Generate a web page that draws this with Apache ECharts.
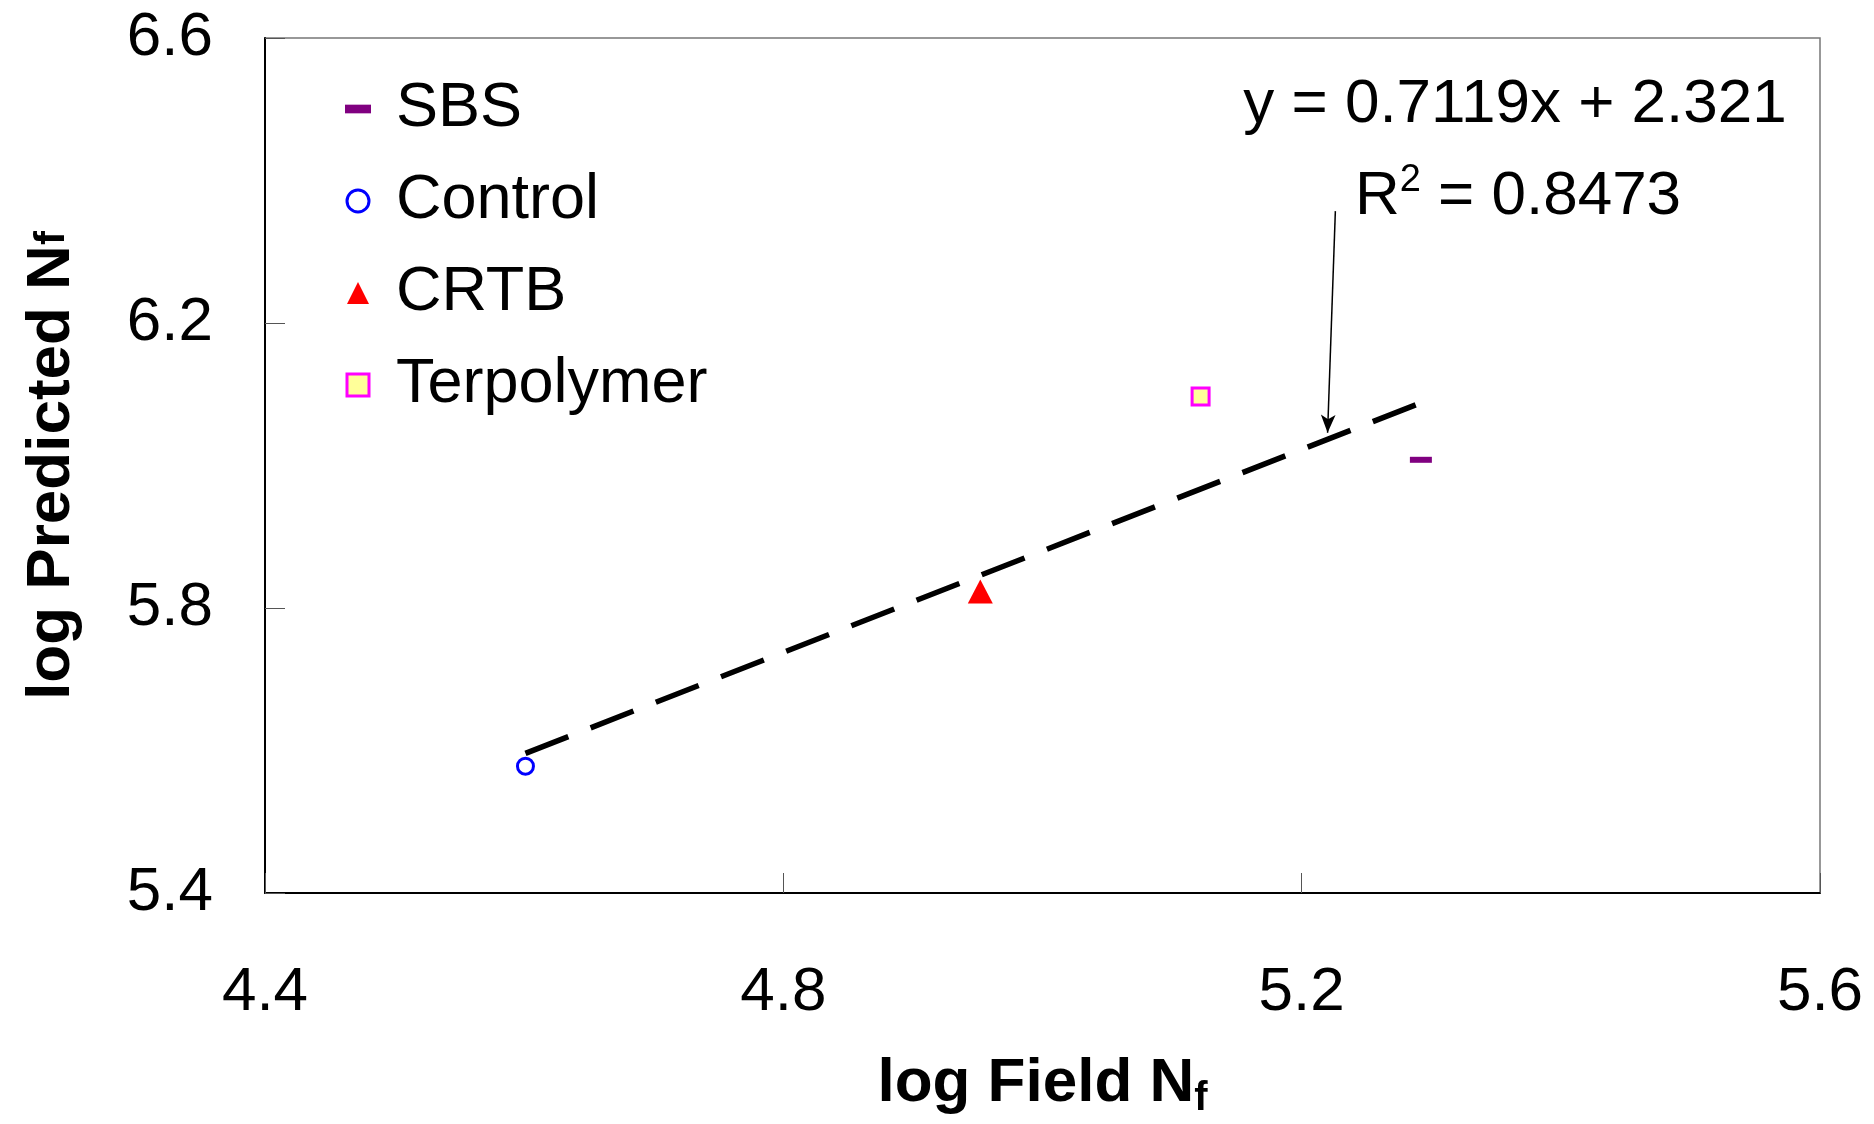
<!DOCTYPE html>
<html>
<head>
<meta charset="utf-8">
<script src="https://cdn.jsdelivr.net/npm/echarts@6/dist/echarts.min.js"></script>
<style>
html,body{margin:0;padding:0;background:#fff;}
#main{width:1874px;height:1124px;}
</style>
</head>
<body>
<div id="main"></div>
<script>
// ---- data ----
var xTicks = [4.4, 4.8, 5.2, 5.6];
var yTicks = [5.4, 5.8, 6.2, 6.6];
var sbsData = [[5.292, 6.008]];
var controlData = [[4.601, 5.578]];
var crtbData = [[4.952, 5.823]];
var terpolymerData = [[5.122, 6.097]];
var trendData = [[4.601, 5.596], [5.292, 6.088]];
var arrowFrom = [5.226, 6.357];
var arrowTo = [5.220, 6.046];
var equationText = 'y = 0.7119x + 2.321';
var r2Value = '0.8473';

var FONT = '"Liberation Sans", Arial, sans-serif';

var chart = echarts.init(document.getElementById('main'));
var option = {
  animation: false,
  backgroundColor: '#fff',
  grid: {
    left: 265, right: 54, top: 38, bottom: 231,
    containLabel: false,
    outerBoundsMode: 'none',
    show: true, borderColor: '#777', borderWidth: 1.5, backgroundColor: 'transparent'
  },
  xAxis: {
    type: 'value', min: 4.4, max: 5.6, interval: 0.4,
    axisLine: {show: true, onZero: false, lineStyle: {color: '#000', width: 2}},
    axisTick: {show: true, inside: true, length: 20, lineStyle: {color: '#555', width: 1}},
    splitLine: {show: false},
    axisLabel: {
      fontFamily: FONT, fontSize: 62, color: '#000', margin: 69,
      formatter: function (v) { return v.toFixed(1); }
    },
    name: '{m|log Field N}{s|f}',
    nameLocation: 'middle',
    nameGap: 156,
    nameTextStyle: {
      rich: {
        m: {fontFamily: FONT, fontSize: 62, fontWeight: 'bold', color: '#000', lineHeight: 70},
        s: {fontFamily: FONT, fontSize: 40, fontWeight: 'bold', color: '#000', padding: [22, 0, 0, 0], verticalAlign: 'bottom'}
      }
    }
  },
  yAxis: {
    type: 'value', min: 5.4, max: 6.6, interval: 0.4,
    axisLine: {show: true, onZero: false, lineStyle: {color: '#000', width: 2}},
    axisTick: {show: true, inside: true, length: 20, lineStyle: {color: '#555', width: 1}},
    splitLine: {show: false},
    axisLabel: {
      fontFamily: FONT, fontSize: 62, color: '#000', margin: 52,
      formatter: function (v) { return v.toFixed(1); }
    },
    name: '{m|log Predicted N}{s|f}',
    nameLocation: 'middle',
    nameGap: 182,
    nameRotate: 90,
    nameTextStyle: {
      rich: {
        m: {fontFamily: FONT, fontSize: 62, fontWeight: 'bold', color: '#000'},
        s: {fontFamily: FONT, fontSize: 42, fontWeight: 'bold', color: '#000'}
      }
    }
  },
  legend: {
    orient: 'vertical',
    left: 340, top: 72,
    itemWidth: 26, itemHeight: 22, itemGap: 28,
    textStyle: {fontFamily: FONT, fontSize: 63, color: '#000', lineHeight: 64, padding: [0, 0, 0, 20]},
    selectedMode: false,
    data: [
      {name: 'SBS', icon: 'path://M0,0H24V8H0Z', itemStyle: {color: '#800080', borderWidth: 0, opacity: 1}},
      {name: 'Control', icon: 'circle', itemStyle: {color: '#fff', borderColor: '#0000ff', borderWidth: 3, opacity: 1}},
      {name: 'CRTB', icon: 'path://M13,0L26,26L0,26Z', itemStyle: {color: '#ff0000', borderWidth: 0, opacity: 1}},
      {name: 'Terpolymer', icon: 'path://M0,0H20V20H0Z', itemStyle: {color: '#ffff99', borderColor: '#ff00ff', borderWidth: 3, opacity: 1}}
    ]
  },
  graphic: [
    {
      type: 'text', x: 1515, y: 105,
      style: {text: equationText, font: '62px ' + FONT, fill: '#000', align: 'center', verticalAlign: 'middle'}
    },
    {
      type: 'text', x: 1518, y: 197,
      style: {
        text: '{r|R}{p|2}{r| = ' + r2Value + '}',
        align: 'center', verticalAlign: 'middle',
        rich: {
          r: {fontFamily: FONT, fontSize: 62, fill: '#000', lineHeight: 70},
          p: {fontFamily: FONT, fontSize: 38, fill: '#000', lineHeight: 50, verticalAlign: 'top'}
        }
      }
    }
  ],
  series: [
    {
      name: 'Trend', type: 'line', data: trendData, symbol: 'none',
      lineStyle: {color: '#000', width: 5.5, type: [46, 24]},
      silent: true, z: 2,
      markLine: {
        silent: true, symbol: ['none', 'arrow'], symbolSize: [11, 18],
        label: {show: false},
        lineStyle: {type: 'solid', color: '#000', width: 1.5},
        data: [[{coord: arrowFrom}, {coord: arrowTo}]]
      }
    },
    {
      name: 'SBS', type: 'scatter', data: sbsData, symbol: 'rect', symbolSize: [22, 6],
      itemStyle: {color: '#800080', opacity: 1}, z: 3
    },
    {
      name: 'Control', type: 'scatter', data: controlData, symbol: 'circle', symbolSize: 16,
      itemStyle: {color: '#fff', borderColor: '#0000ff', borderWidth: 3, opacity: 1}, z: 3
    },
    {
      name: 'CRTB', type: 'scatter', data: crtbData, symbol: 'triangle', symbolSize: [25, 24],
      itemStyle: {color: '#ff0000', opacity: 1}, z: 3
    },
    {
      name: 'Terpolymer', type: 'scatter', data: terpolymerData, symbol: 'rect', symbolSize: 17,
      itemStyle: {color: '#ffff99', borderColor: '#ff00ff', borderWidth: 3, opacity: 1}, z: 3
    }
  ]
};
chart.setOption(option);
</script>
</body>
</html>
